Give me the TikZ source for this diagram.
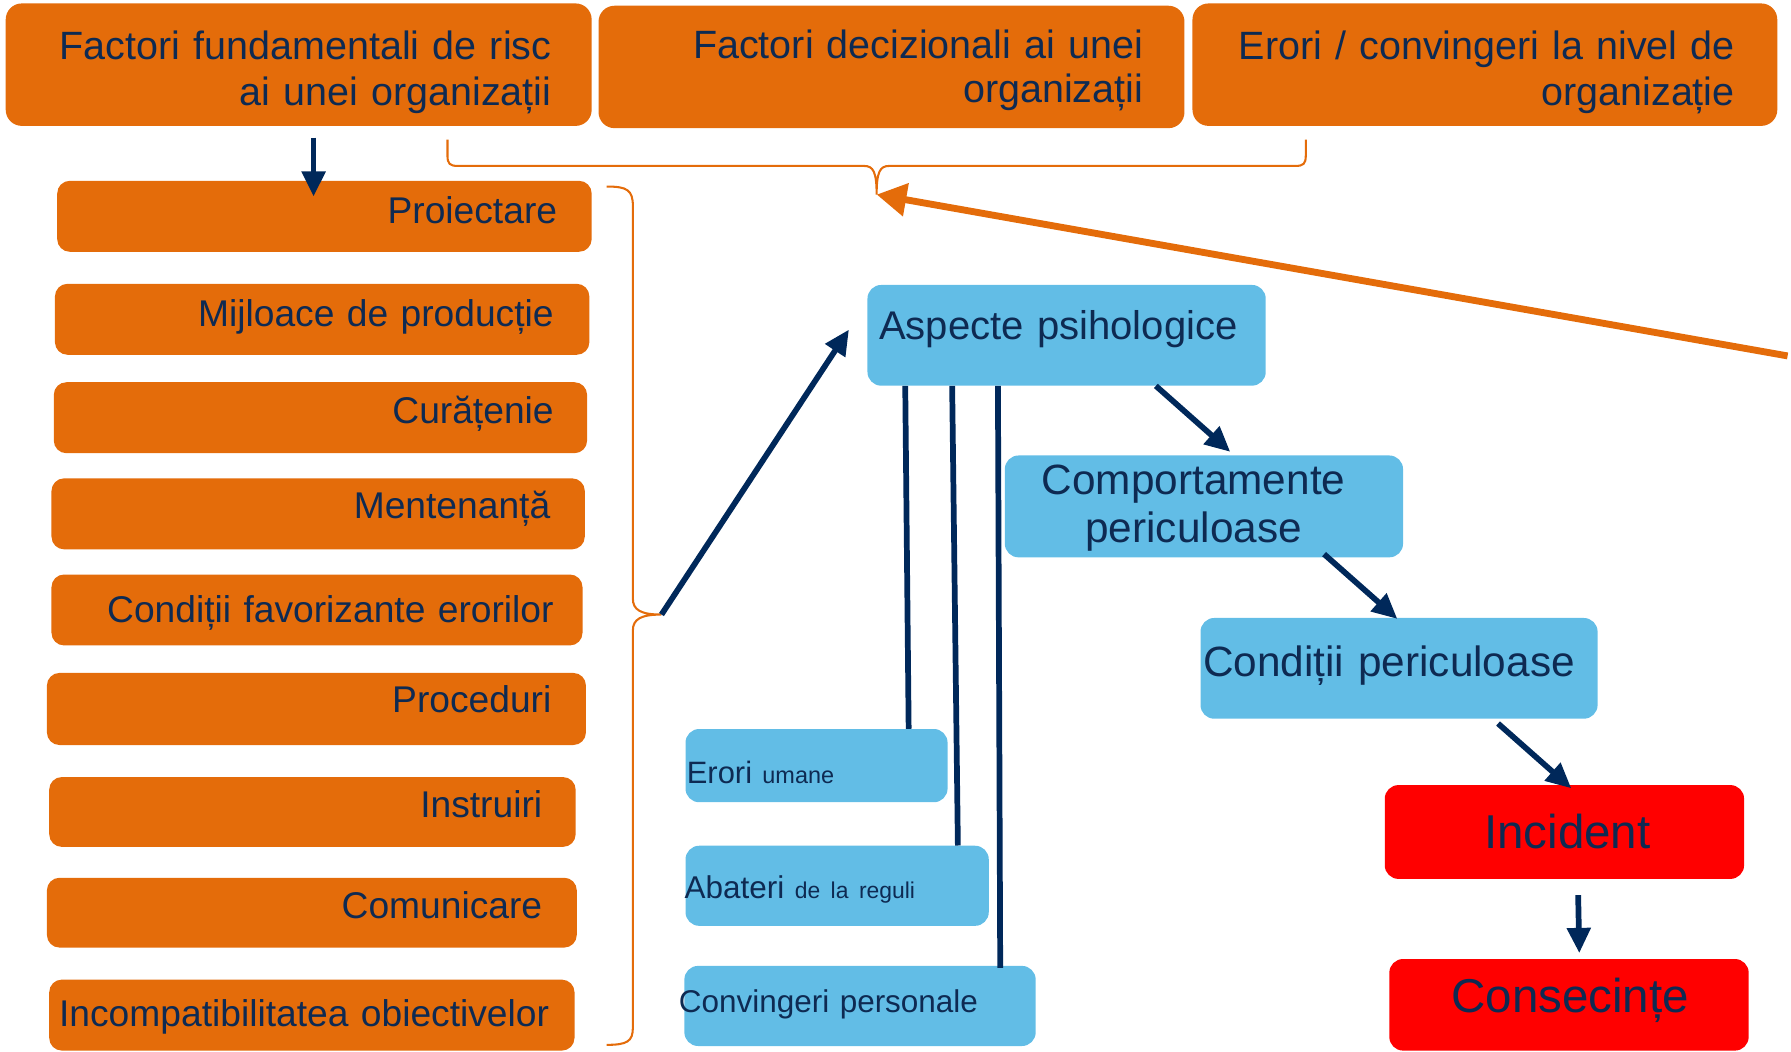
\documentclass[tikz,border=0pt]{standalone}
\usepackage{fontspec}
\setmainfont{Liberation Sans}
\usetikzlibrary{arrows.meta,calc}
\definecolor{org}{HTML}{E46C0A}
\definecolor{sky}{HTML}{62BDE6}
\definecolor{navy}{HTML}{0E2A52}
\definecolor{arr}{HTML}{00285A}
\definecolor{rd}{HTML}{FF0000}
\newcommand\fs[2]{\fontsize{#1}{#2}\selectfont}
\newcommand\rbox[6]{\node[#6,minimum width={#4-#2},minimum height={#5-#3}] (#1) at ({(#2+#4)/2},{(#3+#5)/2}) {};}
\begin{document}
\begin{tikzpicture}[x=1pt,y=-1pt,
  ob/.style={fill=org,rounded corners=14pt,inner sep=0pt,draw=none},
  lob/.style={fill=org,rounded corners=11pt,inner sep=0pt,draw=none},
  bb/.style={fill=sky,rounded corners=12pt,inner sep=0pt,draw=none},
  rb/.style={fill=rd,rounded corners=12pt,inner sep=0pt,draw=none},
  txt/.style={text=navy,inner sep=0pt,text width=560pt},
  rtxt/.style={txt,anchor=base east,align=right},
  ltxt/.style={txt,anchor=base west,align=left},
  ctxt/.style={txt,anchor=base,align=center},
  nav/.style={draw=arr,line width=5pt,-{Triangle[length=22pt,width=20pt]}},
  vline/.style={draw=arr,line width=5pt},
  brc/.style={draw=org,line width=1.8pt},
  oarr/.style={draw=org,line width=6pt,-{Triangle[length=26pt,width=28pt]}}]
\useasboundingbox (0,0) rectangle (1565,918.4);
% top boxes
\rbox{fund}{5}{3}{517}{110}{ob}
\rbox{dec}{523}{5}{1035}{112}{ob}
\rbox{err}{1042}{3}{1553}{110}{ob}
% left column
\rbox{pro}{50}{158}{517}{220}{lob}
\rbox{mij}{48}{248}{515}{310}{lob}
\rbox{cur}{47}{334}{513}{396}{lob}
\rbox{men}{45}{418}{511}{480}{lob}
\rbox{cfe}{45}{502}{509}{564}{lob}
\rbox{prc}{41}{588}{512}{651}{lob}
\rbox{ins}{43}{679}{503}{740}{lob}
\rbox{com}{41}{767}{504}{828}{lob}
\rbox{inc}{43}{856}{502}{918}{lob}
% blue boxes
\rbox{asp}{758}{249}{1106}{337}{bb}
\rbox{cmp}{878}{398}{1226}{487}{bb}
\rbox{cnd}{1049}{540}{1396}{628}{bb}
\rbox{eu}{599}{637}{828}{701}{bb}
\rbox{ab}{599}{739}{864}{809}{bb}
\rbox{cp}{598}{844}{905}{914}{bb}
% red boxes
\rbox{icd}{1210}{686}{1524}{768}{rb}
\rbox{cns}{1214}{838}{1528}{918}{rb}
% texts
\node[rtxt,font=\fs{34.5}{40}] (fund-t) at (482,52) {Factori fundamentali de risc\\ai unei organizații};
\node[rtxt,font=\fs{34.5}{39}] (dec-t) at (999,51) {Factori decizionali ai unei\\organizații};
\node[rtxt,font=\fs{34.5}{40}] (err-t) at (1516,52) {Erori / convingeri la nivel de\\organizație};
\node[rtxt,font=\fs{32.5}{38}] (pro-t) at (487,195) {Proiectare};
\node[rtxt,font=\fs{32.5}{38}] (mij-t) at (484,285) {Mijloace de producție};
\node[rtxt,font=\fs{32.5}{38}] (cur-t) at (484,370) {Curățenie};
\node[rtxt,font=\fs{32.5}{38}] (men-t) at (481,453) {Mentenanță};
\node[rtxt,font=\fs{32.5}{38}] (cfe-t) at (484,544) {Condiții favorizante erorilor};
\node[rtxt,font=\fs{32.5}{38}] (prc-t) at (482,623) {Proceduri};
\node[rtxt,font=\fs{32.5}{38}] (ins-t) at (474,714) {Instruiri};
\node[rtxt,font=\fs{32.5}{38}] (com-t) at (474,803) {Comunicare};
\node[rtxt,font=\fs{32.5}{38}] (inc-t) at (480,897) {Incompatibilitatea obiectivelor};
\node[ltxt,font=\fs{35}{40}] (asp-t) at (768,297) {Aspecte psihologice};
\node[ctxt,font=\fs{37}{42}] (cmp-t) at (1043,432) {Comportamente\\periculoase};
\node[ltxt,font=\fs{37}{42}] (cnd-t) at (1051,591) {Condiții periculoase};
\node[ltxt,font=\fs{27}{32}] (eu-t) at (600,685) {Erori {\fs{20.5}{25}umane}};
\node[ltxt,font=\fs{27.5}{32}] (ab-t) at (598,785) {Abateri {\fs{20}{25}de la reguli}};
\node[ltxt,font=\fs{27.5}{32}] (cp-t) at (593,885) {Convingeri personale};
\node[ctxt,font=\fs{41.5}{48}] (icd-t) at (1369.5,741) {Incident};
\node[ctxt,font=\fs{41.5}{48}] (cns-t) at (1372,885) {Consecințe};
% braces
\coordinate (bt) at (578,537);
\coordinate (tb) at (766,170);
\draw[brc] (530,163) .. controls (548,163) and (553,166) .. (553,180) -- (553,523)
  .. controls (553,533) and (560,537) .. (bt)
  .. controls (560,537) and (553,541) .. (553,551) -- (553,898)
  .. controls (553,910) and (548,913) .. (530,913);
\draw[brc] (391,122) -- (391,136) .. controls (391,143) and (393,145) .. (400,145) -- (755,145)
  .. controls (763,145) and (766,150) .. (tb)
  .. controls (766,150) and (769,145) .. (777,145) -- (1132,145)
  .. controls (1139,145) and (1141,143) .. (1141,136) -- (1141,122);
% orange arrow
\coordinate (oa) at (1562,311);
\draw[oarr] (oa) -- (tb);
% navy connectors
\draw[nav] ($(fund.south)+(13,10)$) -- ($(pro.north)+(-9.5,14)$);
\draw[nav] (bt) -- ($(asp.west)+(-16,-5)$);
\draw[nav] ($(asp.south)+(78,0)$) -- ($(cmp.north)+(23,-3)$);
\draw[nav] ($(cmp.south)+(105,-3)$) -- ($(cnd.north)+(-1.5,1)$);
\draw[nav] ($(cnd.south)+(86.5,4)$) -- ($(icd.north)+(6,3)$);
\draw[nav] ($(icd.south)+(12,14)$) -- ($(cns.north)+(9,-5)$);
\draw[vline] ($(asp.south)+(-141,0)$) -- ($(eu.north)+(80.5,0)$);
\draw[vline] ($(asp.south)+(-100,0)$) -- ($(ab.north)+(105.5,0)$);
\draw[vline] ($(asp.south)+(-60,0)$) -- ($(cp.north)+(122.5,2)$);
\end{tikzpicture}
\end{document}
